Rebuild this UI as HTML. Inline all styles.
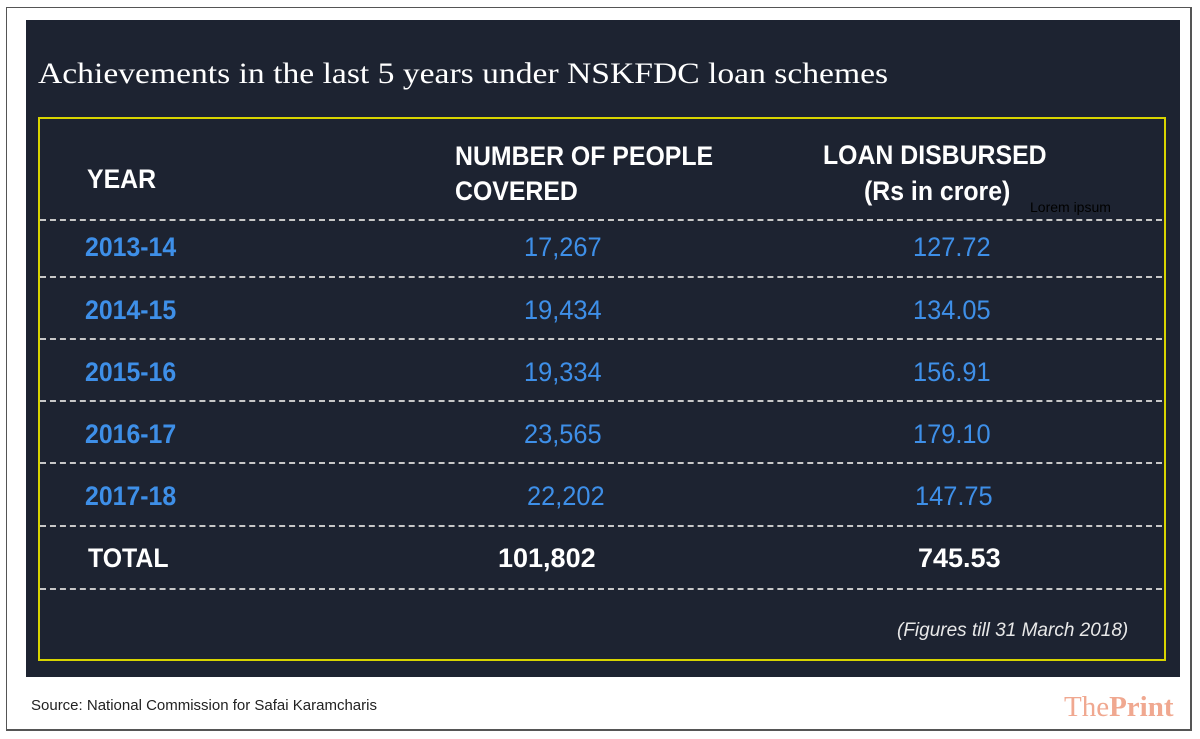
<!DOCTYPE html>
<html><head><style>
body{margin:0;width:1200px;height:739px;background:#fff;position:relative;overflow:hidden;font-family:"Liberation Sans",sans-serif}
.outer{position:absolute;left:6px;top:7px;width:1183px;height:721px;border:1px solid #555;border-right-width:2px;border-bottom-width:2px}
.panel{position:absolute;left:26px;top:20px;width:1154px;height:657px;background:#1d2331}
.box{position:absolute;left:38px;top:117px;width:1124px;height:540px;border:2px solid #d8d400}
.t{position:absolute;white-space:nowrap}
.h{color:#fff;font-weight:bold;font-size:27px;transform:scaleX(.92);transform-origin:left}
.b{color:#3e8fe8;font-size:27px;transform:scaleX(.94);transform-origin:left}
.y{color:#3e8fe8;font-weight:bold;font-size:27px;transform:scaleX(.92);transform-origin:left}
.d{position:absolute;left:40px;width:1122px;border-top:2px dashed #c8c8c8}
</style></head><body>
<div class="outer"></div>
<div class="panel"></div>
<div class="box"></div>
<div class="t" style="left:38px;top:57px;color:#fff;font-family:'Liberation Serif',serif;font-size:30px;transform:scaleX(1.12);transform-origin:left">Achievements in the last 5 years under NSKFDC loan schemes</div>
<div class="t h" style="left:87px;top:164px">YEAR</div>
<div class="t h" style="left:455px;top:139px;line-height:35px">NUMBER OF PEOPLE<br>COVERED</div>
<div class="t h" style="left:823px;top:140px">LOAN DISBURSED</div>
<div class="t h" style="left:864px;top:176px">(Rs in crore)</div>
<div class="t" style="left:1030px;top:199px;font-size:14px;color:#000">Lorem ipsum</div>
<div class="d" style="top:219px"></div>
<div class="d" style="top:276px"></div>
<div class="d" style="top:338px"></div>
<div class="d" style="top:400px"></div>
<div class="d" style="top:462px"></div>
<div class="d" style="top:525px"></div>
<div class="d" style="top:588px"></div>
<div class="t y" style="left:85px;top:232px">2013-14</div><div class="t b" style="left:524px;top:232px">17,267</div><div class="t b" style="left:913px;top:232px">127.72</div>
<div class="t y" style="left:85px;top:295px">2014-15</div><div class="t b" style="left:524px;top:295px">19,434</div><div class="t b" style="left:913px;top:295px">134.05</div>
<div class="t y" style="left:85px;top:357px">2015-16</div><div class="t b" style="left:524px;top:357px">19,334</div><div class="t b" style="left:913px;top:357px">156.91</div>
<div class="t y" style="left:85px;top:419px">2016-17</div><div class="t b" style="left:524px;top:419px">23,565</div><div class="t b" style="left:913px;top:419px">179.10</div>
<div class="t y" style="left:85px;top:481px">2017-18</div><div class="t b" style="left:527px;top:481px">22,202</div><div class="t b" style="left:915px;top:481px">147.75</div>
<div class="t h" style="left:88px;top:543px">TOTAL</div><div class="t h" style="left:498px;top:543px;transform:none">101,802</div><div class="t h" style="left:918px;top:543px;transform:none">745.53</div>
<div class="t" style="left:897px;top:620px;color:#e8e8e8;font-style:italic;font-size:19px">(Figures till 31 March 2018)</div>
<div class="t" style="left:31px;top:697px;font-size:15px;color:#222">Source: National Commission for Safai Karamcharis</div>
<div class="t" style="left:1064px;top:691px;font-family:'Liberation Serif',serif;font-size:29px;color:#f0a890">The<b>Print</b></div>
</body></html>
